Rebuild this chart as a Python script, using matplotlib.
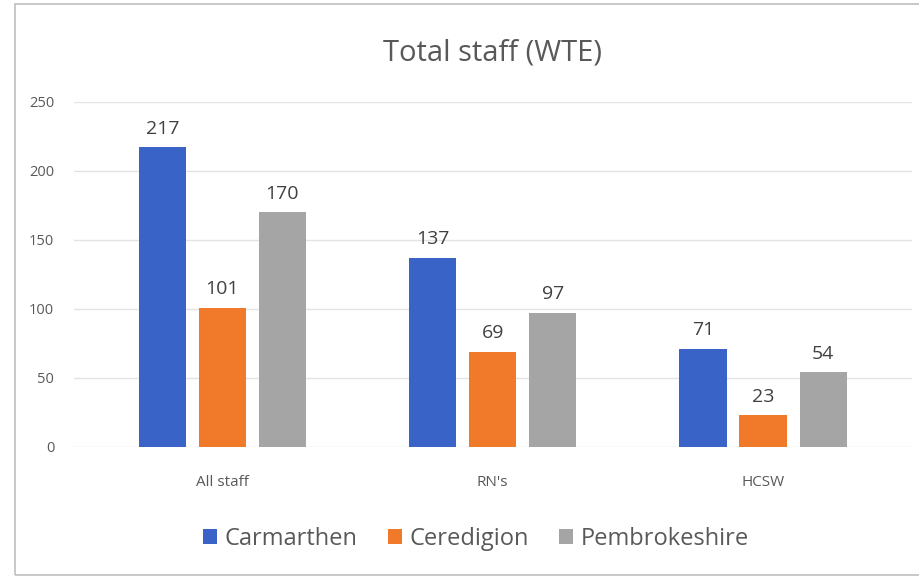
import numpy as np
from matplotlib import pyplot as plt
from matplotlib.patches import Rectangle

categories = ["All staff", "RN's", "HCSW"]
series = ["Carmarthen", "Ceredigion", "Pembrokeshire"]
carmarthen = [217, 137, 71]
ceredigion = [101, 69, 23]
pembrokeshire = [170, 97, 54]
colors = ["#3A63C8", "#F07A2A", "#A5A5A5"]

plt.rcParams['font.family'] = ['Open Sans', 'DejaVu Sans']

fig = plt.figure(figsize=(9.2, 5.79), dpi=100)
# outer frame of the chart
fig.patches.append(Rectangle((15 / 920, 4 / 579), 1.0, 571 / 579, transform=fig.transFigure,
                             fill=False, edgecolor="#BFBFBF", linewidth=1.2))

ax = fig.add_axes([0.08, 0.228, 0.911, 0.596])
x = np.arange(len(categories))
width = 0.174
offset = 0.222

for i, (vals, name) in enumerate(zip([carmarthen, ceredigion, pembrokeshire], series)):
    bars = ax.bar(x + (i - 1) * offset, vals, width, color=colors[i], label=name, zorder=3)
    ax.bar_label(bars, padding=7, fontsize=14, color="#404040")

ax.set_xlim(-0.55, 2.55)
ax.set_ylim(0, 250)
ax.set_yticks(range(0, 251, 50))
ax.yaxis.grid(True, color="#E3E3E3", linewidth=1, zorder=0)
ax.tick_params(axis='y', length=0, pad=14, labelsize=10.5, labelcolor="#595959")
ax.tick_params(axis='x', length=0, pad=20, labelsize=11, labelcolor="#595959")
ax.set_xticks(x)
ax.set_xticklabels(categories)
for s in ax.spines.values():
    s.set_visible(False)

ax.set_title("Total staff (WTE)", fontsize=21, color="#595959", pad=30)

leg = ax.legend(loc="upper center", bbox_to_anchor=(0.48, -0.17), ncol=3, frameon=False,
                fontsize=17, handlelength=0.6, handleheight=0.6, handletextpad=0.3,
                columnspacing=1.3, labelcolor="#595959")

plt.savefig("out.png", dpi=100)
